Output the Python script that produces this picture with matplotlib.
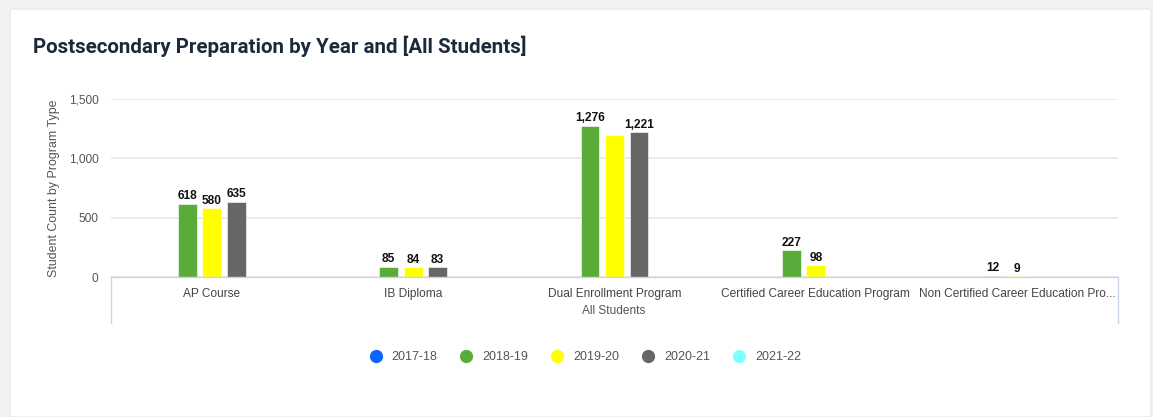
import numpy as np
import matplotlib.pyplot as plt
from matplotlib.lines import Line2D
from matplotlib.patches import FancyBboxPatch
from matplotlib.ticker import FuncFormatter

# datos del gráfico
programas = ["AP Course", "IB Diploma", "Dual Enrollment Program",
             "Certified Career Education Program", "Non Certified Career Education Pro..."]
anios = ["2017-18", "2018-19", "2019-20", "2020-21", "2021-22"]
colores = ["#0a64ff", "#5aac3a", "#ffff00", "#666666", "#80ffff"]

v_2017 = [np.nan, np.nan, np.nan, np.nan, np.nan]
v_2018 = [618, 85, 1276, 227, 12]
v_2019 = [580, 84, 1197, 98, 9]
v_2020 = [635, 83, 1221, np.nan, np.nan]
v_2021 = [np.nan, np.nan, np.nan, np.nan, np.nan]
series = [v_2017, v_2018, v_2019, v_2020, v_2021]
# etiquetas que se muestran (la de 1,197 queda oculta en el original)
mostrar = [None, [1, 1, 1, 1, 1], [1, 1, 0, 1, 1], [1, 1, 1, 0, 0], None]

W, H = 1153, 417
fig = plt.figure(figsize=(W / 100, H / 100), dpi=100)
fig.patch.set_facecolor("#f1f2f4")
fondo = FancyBboxPatch((10 / W, 0), 1141 / W, (H - 9) / H,
                       boxstyle="round,pad=0,rounding_size=0.004",
                       transform=fig.transFigure, facecolor="white",
                       edgecolor="#e6e7ea", linewidth=0.8, zorder=-10)
fig.patches.append(fondo)

fig.text(33 / W, 1 - 46 / H, "Postsecondary Preparation by Year and [All Students]",
         fontsize=14.8, fontweight="bold", family="Roboto", color="#1b2a3a", va="center")

x0, x1, ytop, ybot = 111, 1118, 99, 277
ax = fig.add_axes([x0 / W, 1 - ybot / H, (x1 - x0) / W, (ybot - ytop) / H])
ax.set_facecolor("none")
ax.set_xlim(-0.5, 4.5)
ax.set_ylim(0, 1500)

x = np.arange(len(programas))
paso = 0.1217
ancho = 0.094
for k, (vals, col) in enumerate(zip(series, colores)):
    pos = x + (k - 2) * paso
    ax.bar(pos, vals, width=ancho, color=col, edgecolor="#ffffff", linewidth=0.4, zorder=3)
    if mostrar[k] is None:
        continue
    for p, v, m in zip(pos, vals, mostrar[k]):
        if m and not np.isnan(v):
            ax.text(p, v + 12, f"{int(v):,}", ha="center", va="bottom", fontsize=8.6,
                    fontweight="bold", family="Liberation Sans", color="#111111", zorder=4)

ax.set_yticks([0, 500, 1000, 1500])
ax.yaxis.set_major_formatter(FuncFormatter(lambda v, _: f"{int(v):,}"))
ax.grid(axis="y", color="#e8e8e8", linewidth=1.3, zorder=0)
ax.tick_params(axis="y", length=0, pad=9, labelsize=8.6, labelcolor="#555555")
for t in ax.get_yticklabels():
    t.set_family("Liberation Sans")
ax.set_xticks(x)
ax.set_xticklabels(programas, family="Liberation Sans", fontsize=8.6, color="#444444")
ax.tick_params(axis="x", length=0, pad=8)
for s in ax.spines.values():
    s.set_visible(False)

ax.set_ylabel("Student Count by Program Type", family="Liberation Sans", fontsize=8.9,
              color="#555555")
ax.yaxis.set_label_coords(-0.051, 0.5)

# caja del eje x
borde = "#c9d5ea"
fig.add_artist(Line2D([x0 / W, x1 / W], [1 - ybot / H] * 2, color=borde, lw=1))
fig.add_artist(Line2D([x0 / W] * 2, [1 - ybot / H, 1 - 323 / H], color=borde, lw=1))
fig.add_artist(Line2D([x1 / W] * 2, [1 - ybot / H, 1 - 323 / H], color=borde, lw=1))
fig.text(614 / W, 1 - 311 / H, "All Students", ha="center", va="center",
         family="Liberation Sans", fontsize=8.6, color="#555555")

manijas = [Line2D([], [], marker="o", linestyle="", markersize=8.5, color=c) for c in colores]
fig.legend(manijas, anios, loc="center", bbox_to_anchor=(582 / W, 1 - 357 / H), ncol=5,
           frameon=False, handletextpad=0.25, columnspacing=1.35,
           prop={"family": "Liberation Sans", "size": 9}, labelcolor="#555555")

fig.savefig("out.png", dpi=100, facecolor=fig.get_facecolor())
